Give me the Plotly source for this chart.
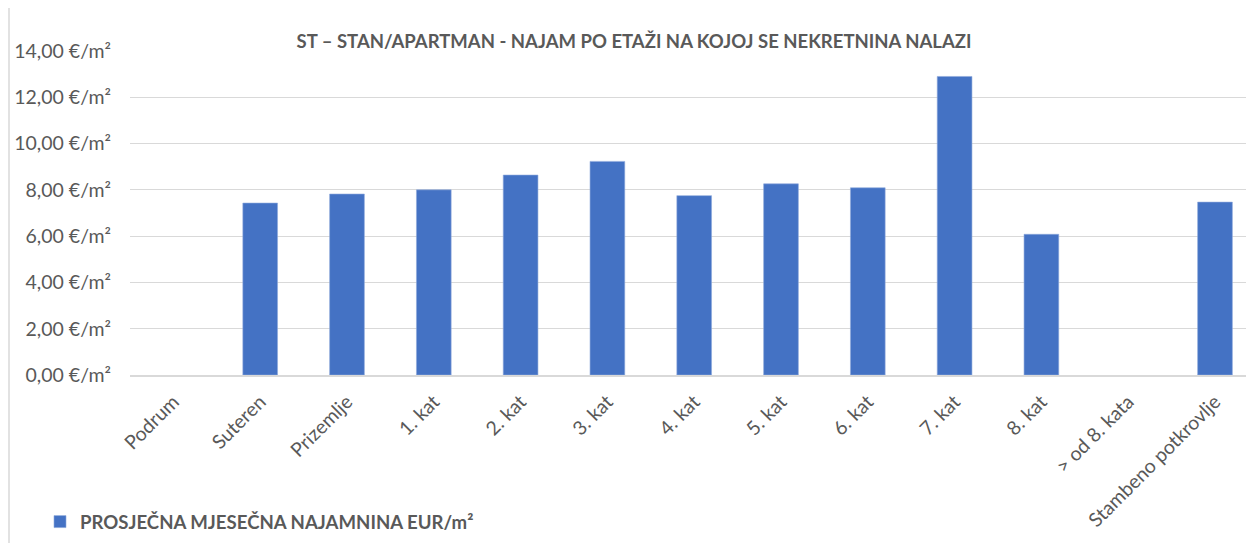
import plotly.graph_objects as go

categories = ["Podrum", "Suteren", "Prizemlje", "1. kat", "2. kat", "3. kat", "4. kat",
              "5. kat", "6. kat", "7. kat", "8. kat", "> od 8. kata", "Stambeno potkrovlje"]
values = [None, 7.43, 7.82, 8.00, 8.64, 9.23, 7.75, 8.26, 8.09, 12.90, 6.08, None, 7.47]
series_name = "PROSJEČNA MJESEČNA NAJAMNINA EUR/m²"
title_text = "ST – STAN/APARTMAN - NAJAM PO ETAŽI NA KOJOJ SE NEKRETNINA NALAZI"
ytick_vals = [0, 2, 4, 6, 8, 10, 12, 14]
ytick_text = ["0,00 €/m²", "2,00 €/m²", "4,00 €/m²", "6,00 €/m²", "8,00 €/m²",
              "10,00 €/m²", "12,00 €/m²", "14,00 €/m²"]

FONT = "Lato, 'Open Sans', sans-serif"
GRAY = "#595959"

W, H = 1246, 535
L, T, B = 122, 43, 168
PW, PH = W - L, H - T - B

fig = go.Figure()
fig.add_trace(go.Bar(
    x=categories, y=values, name="<b>" + series_name + "</b>",
    marker=dict(color="#4472C4", line=dict(color="#8FAADC", width=0.6)),
    showlegend=True,
))

fig.update_layout(
    width=W, height=H,
    margin=dict(l=L, r=0, t=T, b=B, autoexpand=False),
    paper_bgcolor="white", plot_bgcolor="white",
    bargap=0.6,
    font=dict(family=FONT, color=GRAY),
    title=dict(text="<b>" + title_text + "</b>", x=626 / W, xanchor="center",
               y=1 - 34 / H, yanchor="middle",
               font=dict(family=FONT, size=18.5, color=GRAY)),
    showlegend=True,
    legend=dict(orientation="h", x=(32 - L) / PW, xanchor="left",
                y=(T + PH - 514) / PH, yanchor="middle",
                font=dict(family=FONT, size=18.6, color=GRAY),
                itemwidth=30, bgcolor="rgba(0,0,0,0)"),
    xaxis=dict(type="category", range=[-0.5, -0.5 + PW / 86.8], tickangle=-45, automargin=False,
               tickfont=dict(family=FONT, size=19.5, color=GRAY),
               showgrid=False, showline=True, linecolor="#D9D9D9", linewidth=1.5,
               ticks="", ticklabelstandoff=6),
    yaxis=dict(range=[0, 14], tickvals=ytick_vals, ticktext=ytick_text, automargin=False,
               tickfont=dict(family=FONT, size=19.5, color=GRAY),
               showgrid=True, gridcolor="#D9D9D9", gridwidth=1.2,
               zeroline=False, showline=False, ticks="", ticklabelstandoff=18),
)

fig.add_shape(type="line", xref="paper", yref="paper",
              x0=(1 - L) / PW, x1=(1 - L) / PW, y0=-B / PH, y1=(PH + T) / PH,
              line=dict(color="#D9D9D9", width=1.5))

fig.write_html("out.html")
